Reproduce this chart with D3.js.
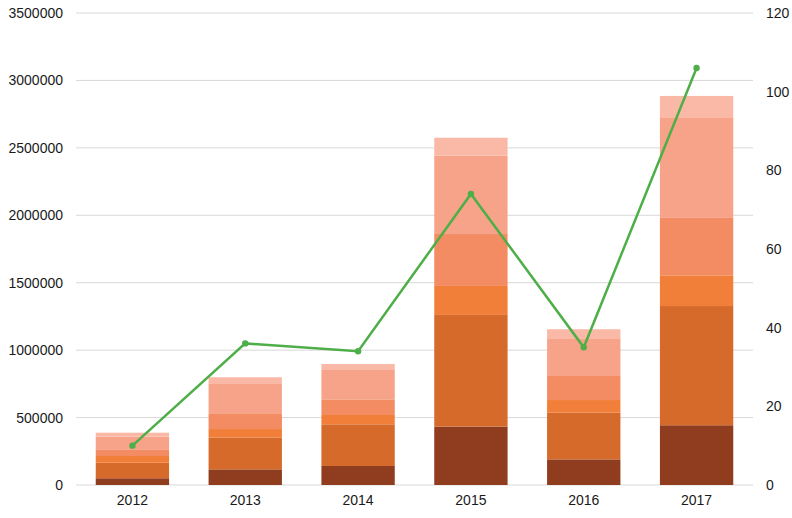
<!DOCTYPE html>
<html>
<head>
<meta charset="utf-8">
<script src="https://cdn.jsdelivr.net/npm/d3@7"></script>
<style>
body{margin:0;background:#fff;}
text{font-family:"Liberation Sans",Arial,sans-serif;font-size:14px;fill:#1a1a1a;}
</style>
</head>
<body>
<svg id="chart" width="792" height="518"></svg>
<script>
var years=["2012","2013","2014","2015","2016","2017"];
// stacked bar segments, bottom to top
var seg1=[50000,116000,141000,433000,190000,443000];
var seg2=[115000,235000,309000,828000,346000,884000];
var seg3=[50000,64000,69000,215000,94000,228000];
var seg4=[45000,117000,116000,385000,178000,430000];
var seg5=[98000,217000,223000,581000,280000,742000];
var seg6=[30000,50000,39000,133000,67000,158000];
var lineVals=[10,36,34,74,35,106];
var leftTicks=[0,500000,1000000,1500000,2000000,2500000,3000000,3500000];
var rightTicks=[0,20,40,60,80,100,120];
var colors=["#8f3c1f","#d56a2a","#f17f3a","#f38c63","#f7a389","#f9b9a6"];

var svg=d3.select("#chart");
var plotLeft=76, plotRight=753, plotTop=13, plotBottom=485;

var x=d3.scaleBand().domain(years).range([plotLeft,plotRight]).paddingInner(0.35).paddingOuter(0.175);
var y=d3.scaleLinear().domain([0,3500000]).range([plotBottom,plotTop]);
var y2=d3.scaleLinear().domain([0,120]).range([plotBottom,plotTop]);

//gridlines
svg.append("g").selectAll("line").data(leftTicks).enter().append("line")
    .attr("x1",plotLeft).attr("x2",plotRight)
    .attr("y1",function(d){return y(d);}).attr("y2",function(d){return y(d);})
    .attr("stroke","#d9d9d9").attr("stroke-width",1);

//left axis
var yAxis=d3.axisLeft(y).tickValues(leftTicks).tickSize(0).tickPadding(13).tickFormat(d3.format("d"));
var gy=svg.append("g").attr("transform","translate("+plotLeft+",0)").call(yAxis);
gy.select(".domain").remove();

//right axis
var yAxis2=d3.axisRight(y2).tickValues(rightTicks).tickSize(0).tickPadding(13);
var gy2=svg.append("g").attr("transform","translate("+plotRight+",0)").call(yAxis2);
gy2.select(".domain").remove();

//x axis
var xAxis=d3.axisBottom(x).tickSize(0).tickPadding(10);
var gx=svg.append("g").attr("transform","translate(0,"+plotBottom+")").call(xAxis);
gx.select(".domain").remove();
svg.selectAll(".tick text").style("font-family","Liberation Sans, Arial, sans-serif").style("font-size","14px").attr("fill","#1a1a1a");

//stacked bars
var rows=years.map(function(yr,i){
    return {year:yr,s1:seg1[i],s2:seg2[i],s3:seg3[i],s4:seg4[i],s5:seg5[i],s6:seg6[i]};
});
var keys=["s1","s2","s3","s4","s5","s6"];
var stack=d3.stack().keys(keys)(rows);

svg.append("g").selectAll("g").data(stack).enter().append("g")
    .attr("fill",function(d,i){return colors[i];})
    .selectAll("rect").data(function(d){return d;}).enter().append("rect")
    .attr("x",function(d){return x(d.data.year);})
    .attr("width",x.bandwidth())
    .attr("y",function(d){return y(d[1]);})
    .attr("height",function(d){return y(d[0])-y(d[1]);});

//line on right axis
var line=d3.line()
    .x(function(d,i){return x(years[i])+x.bandwidth()/2;})
    .y(function(d){return y2(d);});

svg.append("path").datum(lineVals)
    .attr("d",line)
    .attr("fill","none")
    .attr("stroke","#4eae48")
    .attr("stroke-width",2.5);

svg.append("g").selectAll("circle").data(lineVals).enter().append("circle")
    .attr("cx",function(d,i){return x(years[i])+x.bandwidth()/2;})
    .attr("cy",function(d){return y2(d);})
    .attr("r",3.2)
    .attr("fill","#4eae48");
</script>
</body>
</html>
